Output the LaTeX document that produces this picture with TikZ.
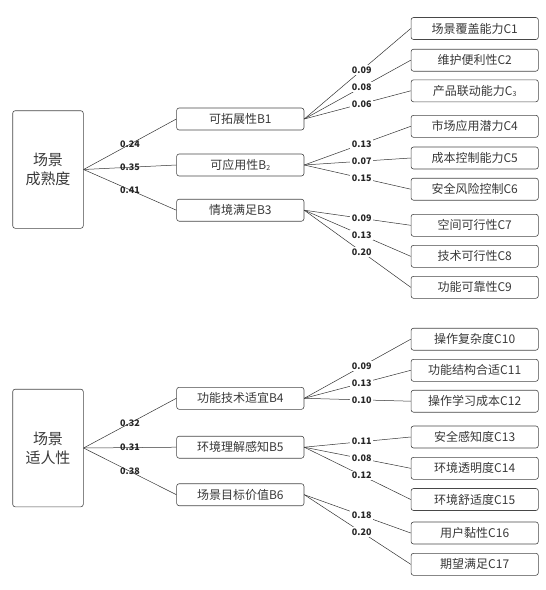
\documentclass[tikz,border=0pt]{standalone}
\usepackage{fontspec}
\newfontfamily\cjk{Noto Sans CJK SC}
\tikzset{
  box/.style={draw=black!72, rounded corners=2.5pt, line width=0.6pt, inner sep=0pt,
    minimum width=127.3pt, minimum height=22pt, text=black!78,
    font=\cjk\fontsize{12}{12}\selectfont},
  rootbox/.style={box, minimum width=70.6pt, minimum height=117.6pt, align=center,
    font=\cjk\fontsize{15}{19}\selectfont},
  link/.style={draw=black!80, line width=0.5pt},
  wlab/.style={font=\cjk\bfseries\fontsize{9}{9}\selectfont, text=black!85, inner sep=1.5pt},
  wlabc/.style={wlab, fill=white, pos=0.54},
  wlabr/.style={wlab, pos=0.5}
}
\newcommand{\smallsub}[1]{\raisebox{-0.8pt}{\fontsize{7}{7}\selectfont #1}}
\begin{document}
\begin{tikzpicture}[x=1pt,y=-1pt]
\useasboundingbox (0,0) rectangle (546,590);
% ---------- upper tree ----------
\node[rootbox] (R1) at (48,169.5) {场景\\成熟度};
\node[box] (B1) at (240.3,119) {可拓展性B1};
\node[box] (B2) at (240.3,165) {可应用性B\smallsub{2}};
\node[box] (B3) at (240.3,210.2) {情境满足B3};
\node[box] (C1) at (474.7,28.5) {场景覆盖能力C1};
\node[box] (C2) at (474.7,60.2) {维护便利性C2};
\node[box] (C3) at (474.7,90.8) {产品联动能力C\smallsub{3}};
\node[box] (C4) at (474.7,126.3) {市场应用潜力C4};
\node[box] (C5) at (474.7,158) {成本控制能力C5};
\node[box] (C6) at (474.7,189.2) {安全风险控制C6};
\node[box] (C7) at (474.7,225.3) {空间可行性C7};
\node[box] (C8) at (474.7,256.3) {技术可行性C8};
\node[box] (C9) at (474.7,287.3) {功能可靠性C9};
\draw[link] (R1.east) -- node[wlabr]{0.24} (B1.west);
\draw[link] (R1.east) -- node[wlabr]{0.35} (B2.west);
\draw[link] (R1.east) -- node[wlabr]{0.41} (B3.west);
\draw[link] (B1.east) -- node[wlabc]{0.09} (C1.west);
\draw[link] (B1.east) -- node[wlabc]{0.08} (C2.west);
\draw[link] (B1.east) -- node[wlabc]{0.06} (C3.west);
\draw[link] (B2.east) -- node[wlabc]{0.13} (C4.west);
\draw[link] (B2.east) -- node[wlabc]{0.07} (C5.west);
\draw[link] (B2.east) -- node[wlabc]{0.15} (C6.west);
\draw[link] (B3.east) -- node[wlabc]{0.09} (C7.west);
\draw[link] (B3.east) -- node[wlabc]{0.13} (C8.west);
\draw[link] (B3.east) -- node[wlabc]{0.20} (C9.west);
% ---------- lower tree ----------
\node[rootbox] (R2) at (48,448) {场景\\适人性};
\node[box] (B4) at (240.3,398.3) {功能技术适宜B4};
\node[box] (B5) at (240.3,447.2) {环境理解感知B5};
\node[box] (B6) at (240.3,494.7) {场景目标价值B6};
\node[box] (C10) at (474.7,339.2) {操作复杂度C10};
\node[box] (C11) at (474.7,370.3) {功能结构合适C11};
\node[box] (C12) at (474.7,401.2) {操作学习成本C12};
\node[box] (C13) at (474.7,437) {安全感知度C13};
\node[box] (C14) at (474.7,468.3) {环境透明度C14};
\node[box] (C15) at (474.7,499.5) {环境舒适度C15};
\node[box] (C16) at (474.7,533) {用户黏性C16};
\node[box] (C17) at (474.7,564.3) {期望满足C17};
\draw[link] (R2.east) -- node[wlabr]{0.32} (B4.west);
\draw[link] (R2.east) -- node[wlabr]{0.31} (B5.west);
\draw[link] (R2.east) -- node[wlabr]{0.38} (B6.west);
\draw[link] (B4.east) -- node[wlabc]{0.09} (C10.west);
\draw[link] (B4.east) -- node[wlabc]{0.13} (C11.west);
\draw[link] (B4.east) -- node[wlabc]{0.10} (C12.west);
\draw[link] (B5.east) -- node[wlabc]{0.11} (C13.west);
\draw[link] (B5.east) -- node[wlabc]{0.08} (C14.west);
\draw[link] (B5.east) -- node[wlabc]{0.12} (C15.west);
\draw[link] (B6.east) -- node[wlabc]{0.18} (C16.west);
\draw[link] (B6.east) -- node[wlabc]{0.20} (C17.west);
\end{tikzpicture}
\end{document}
